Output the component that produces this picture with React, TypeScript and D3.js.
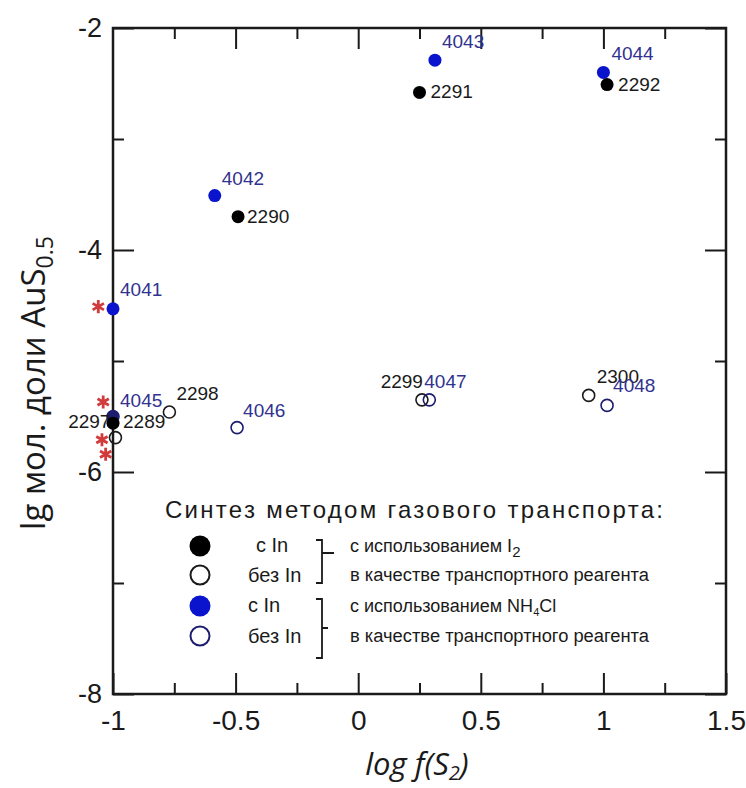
import React, { useRef, useEffect } from "react";
import * as d3 from "d3";

// axis ticks
const xTicks = [-1, -0.5, 0, 0.5, 1, 1.5];
const xMinorTicks = [-0.75, -0.25, 0.25, 0.75, 1.25];
const yTicks = [-2, -4, -6, -8];
const yMinorTicks = [-3, -5, -7];

// I2 as transport agent, with In (filled black)
const i2WithIn = [
  { id: "2289", x: -1, y: -5.56 },
  { id: "2290", x: -0.49, y: -3.7 },
  { id: "2291", x: 0.25, y: -2.58 },
  { id: "2292", x: 1.015, y: -2.51 },
];
// I2, without In (open black)
const i2WithoutIn = [
  { id: "2297", x: -0.99, y: -5.69 },
  { id: "2298", x: -0.77, y: -5.46 },
  { id: "2299", x: 0.26, y: -5.35 },
  { id: "2300", x: 0.94, y: -5.31 },
];
// NH4Cl, with In (filled blue)
const nh4WithIn = [
  { id: "4041", x: -1, y: -4.53 },
  { id: "4042", x: -0.585, y: -3.51 },
  { id: "4043", x: 0.313, y: -2.29 },
  { id: "4044", x: 1.0, y: -2.4 },
];
// NH4Cl, without In (open blue)
const nh4WithoutIn = [
  { id: "4045", x: -1, y: -5.5 },
  { id: "4046", x: -0.494, y: -5.6 },
  { id: "4047", x: 0.29, y: -5.35 },
  { id: "4048", x: 1.015, y: -5.4 },
];
// red asterisks just left of the axis
const asterisks = [
  { x: -1.06, y: -4.51 },
  { x: -1.04, y: -5.37 },
  { x: -1.045, y: -5.71 },
  { x: -1.03, y: -5.84 },
];

// label offsets in px from the marker: [dx, dy, anchor]
const labelPos: Record<string, [number, number, string]> = {
  "2289": [10, 5, "start"],
  "2290": [9, 6, "start"],
  "2291": [11, 6, "start"],
  "2292": [11, 6, "start"],
  "2297": [-5, -10, "end"],
  "2298": [7, -12, "start"],
  "2299": [1, -12, "end"],
  "2300": [8, -12, "start"],
  "4041": [7, -13, "start"],
  "4042": [7, -11, "start"],
  "4043": [7, -12, "start"],
  "4044": [8, -12, "start"],
  "4045": [7, -10, "start"],
  "4046": [6, -11, "start"],
  "4047": [-5, -12, "start"],
  "4048": [6, -13, "start"],
};

const BLUE = "#0a14cc";
const NAVY = "#32328f";
const INK = "#1a1a1a";
const FONT = "'Liberation Sans', Arial, sans-serif";

const width = 746;
const height = 788;
const margin = { top: 28, right: 20, bottom: 94, left: 113 };

export default function App() {
  const xAxisRef = useRef<SVGGElement>(null);
  const yAxisRef = useRef<SVGGElement>(null);
  const gridRef = useRef<SVGGElement>(null);

  const x = d3.scaleLinear().domain([-1, 1.5]).range([margin.left, width - margin.right]);
  const y = d3.scaleLinear().domain([-8, -2]).range([height - margin.bottom, margin.top]);
  const x0 = x.range()[0], x1 = x.range()[1];
  const y0 = y.range()[1], y1 = y.range()[0];

  useEffect(() => {
    const fmt = (d: any) => String(d);

    const gx = d3.select(xAxisRef.current);
    gx.selectAll("*").remove();
    gx.attr("transform", `translate(0,${y1})`)
      .call(d3.axisBottom(x).tickValues(xTicks).tickFormat(fmt).tickSize(-21).tickSizeOuter(0).tickPadding(16));
    gx.select(".domain").remove();
    gx.selectAll("line").attr("stroke", INK).attr("stroke-width", 2);
    gx.selectAll("text").attr("font-size", 28).attr("font-family", FONT).attr("fill", INK);

    const gy = d3.select(yAxisRef.current);
    gy.selectAll("*").remove();
    gy.attr("transform", `translate(${x0},0)`)
      .call(d3.axisLeft(y).tickValues(yTicks).tickFormat(fmt).tickSize(-21).tickSizeOuter(0).tickPadding(11));
    gy.select(".domain").remove();
    gy.selectAll("line").attr("stroke", INK).attr("stroke-width", 2);
    gy.selectAll("text").attr("font-size", 27).attr("font-family", FONT).attr("fill", INK);

    // minor ticks and the mirrored ticks on top / right
    const g = d3.select(gridRef.current);
    g.selectAll("*").remove();
    const addTicks = (axis: any, tf: string) => {
      const t = g.append("g").attr("transform", tf).call(axis);
      t.select(".domain").remove();
      t.selectAll("text").remove();
      t.selectAll("line").attr("stroke", INK).attr("stroke-width", 2);
    };
    addTicks(d3.axisBottom(x).tickValues(xMinorTicks).tickSize(-11).tickSizeOuter(0), `translate(0,${y1})`);
    addTicks(d3.axisTop(x).tickValues(xTicks.slice(1, -1)).tickSize(-21).tickSizeOuter(0), `translate(0,${y0})`);
    addTicks(d3.axisTop(x).tickValues(xMinorTicks).tickSize(-11).tickSizeOuter(0), `translate(0,${y0})`);
    addTicks(d3.axisLeft(y).tickValues(yMinorTicks).tickSize(-11).tickSizeOuter(0), `translate(${x0},0)`);
    addTicks(d3.axisRight(y).tickValues(yTicks).tickSize(-21).tickSizeOuter(0), `translate(${x1},0)`);
    addTicks(d3.axisRight(y).tickValues(yMinorTicks).tickSize(-11).tickSizeOuter(0), `translate(${x1},0)`);
  }, []);

  const star = d3.symbol(d3.symbolAsterisk, 120)() || "";

  const label = (d: { id: string; x: number; y: number }, color: string) => {
    const [dx, dy, anchor] = labelPos[d.id];
    return (
      <text key={"l" + d.id} x={x(d.x) + dx} y={y(d.y) + dy} textAnchor={anchor}
        fontSize={19} fontFamily={FONT} fill={color}>
        {d.id}
      </text>
    );
  };

  const legX = 200;
  const rows = [546, 575, 606, 636];

  return (
    <svg width={width} height={height} style={{ position: "absolute", left: 0, top: 0, background: "#fff" }}>
      <g ref={gridRef} />
      <g ref={xAxisRef} />
      <g ref={yAxisRef} />
      <rect x={x0} y={y0} width={x1 - x0} height={y1 - y0} fill="none" stroke={INK} strokeWidth={2.5} />

      {/* open markers first */}
      {i2WithoutIn.map(d => (
        <circle key={d.id} cx={x(d.x)} cy={y(d.y)} r={6} fill="none" stroke={INK} strokeWidth={1.6} />
      ))}
      {nh4WithoutIn.map(d => (
        <circle key={d.id} cx={x(d.x)} cy={y(d.y)} r={6} fill={d.id === "4045" ? "#1d1d70" : "none"} stroke="#1d1d70" strokeWidth={1.6} />
      ))}
      {nh4WithIn.map(d => (
        <circle key={d.id} cx={x(d.x)} cy={y(d.y)} r={6.5} fill={BLUE} />
      ))}
      {i2WithIn.map(d => (
        <circle key={d.id} cx={x(d.x)} cy={y(d.y)} r={6.5} fill="#000" />
      ))}
      {asterisks.map((d, i) => (
        <path key={"s" + i} d={star} transform={`translate(${x(d.x)},${y(d.y)})`} stroke="#d23b3b" strokeWidth={2.8} fill="none" />
      ))}

      {i2WithIn.map(d => label(d, INK))}
      {i2WithoutIn.map(d => label(d, INK))}
      {nh4WithIn.map(d => label(d, NAVY))}
      {nh4WithoutIn.map(d => label(d, NAVY))}

      {/* legend */}
      <g fontFamily={FONT} fill={INK}>
        <text x={165} y={518} fontSize={24} textLength={498} lengthAdjust="spacing">Синтез методом газового транспорта:</text>
        <circle cx={legX} cy={rows[0]} r={10.5} fill="#000" />
        <circle cx={legX} cy={rows[1]} r={9.5} fill="none" stroke={INK} strokeWidth={2} />
        <circle cx={legX} cy={rows[2]} r={10.5} fill={BLUE} />
        <circle cx={legX} cy={rows[3]} r={9.5} fill="none" stroke="#1d1d70" strokeWidth={2} />
        <text x={256} y={rows[0] + 6} fontSize={20}>с In</text>
        <text x={248} y={rows[1] + 7} fontSize={20}>без In</text>
        <text x={248} y={rows[2] + 6} fontSize={20}>с In</text>
        <text x={248} y={rows[3] + 7} fontSize={20}>без In</text>
        <path d={`M316,${rows[0] - 6} h6 V${rows[1] + 8} h-6 M322,${rows[0] + 7} h12`} fill="none" stroke={INK} strokeWidth={1.8} />
        <path d={`M316,${rows[2] - 7} h6 V${rows[3] + 22} h-6 M322,${rows[3] - 8} h6`} fill="none" stroke={INK} strokeWidth={1.8} />
        <g fontSize={18}>
          <text x={350} y={rows[0] + 6}>с использованием I<tspan dy={5} fontSize={15}>2</tspan></text>
          <text x={350} y={rows[1] + 6} textLength={299} lengthAdjust="spacingAndGlyphs">в качестве транспортного реагента</text>
          <text x={350} y={rows[2] + 6}>с использованием NH<tspan dy={4} fontSize={11}>4</tspan><tspan dy={-4}>Cl</tspan></text>
          <text x={350} y={rows[3] + 6} textLength={299} lengthAdjust="spacingAndGlyphs">в качестве транспортного реагента</text>
        </g>
      </g>

      {/* axis titles */}
      <text transform="translate(45,383) rotate(-90)" textAnchor="middle" fontSize={33} fontFamily="'Open Sans', sans-serif" fill={INK}>
        lg мол. доли AuS<tspan dy={8} fontSize={23}>0.5</tspan>
      </text>
      <text x={417} y={775} textAnchor="middle" fontSize={31} fontStyle="italic" fontFamily="'Open Sans', sans-serif" fill={INK}>
        log f(S<tspan dy={5} fontSize={20}>2</tspan><tspan dy={-5}>)</tspan>
      </text>
    </svg>
  );
}
